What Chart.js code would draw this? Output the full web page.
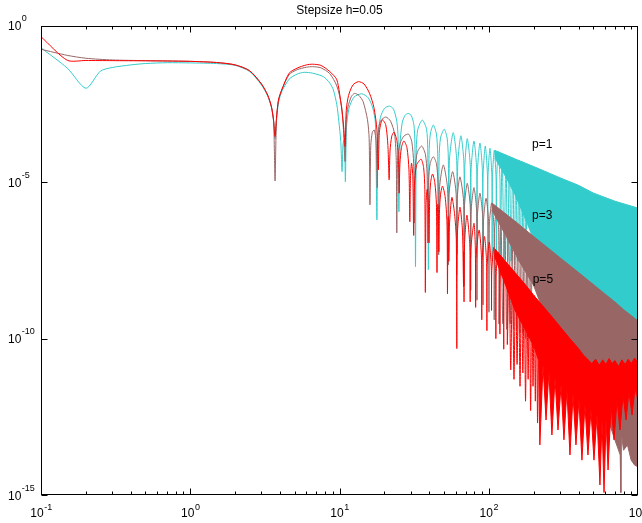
<!DOCTYPE html>
<html><head><meta charset="utf-8">
<script src="https://cdn.jsdelivr.net/npm/chart.js@4.4.0/dist/chart.umd.min.js"></script>
<style>html,body{margin:0;padding:0;background:#fff}#wrap{width:642px;height:523px;position:relative}</style>
</head><body><div id="wrap"><canvas id="c" width="642" height="523"></canvas></div>
<script>
// ---------------- data ----------------
const titleText = 'Stepsize h=0.05';
const xTickValues = [0.1, 1, 10, 100, 1000];
const xTickExponents = ['-1', '0', '1', '2', '3'];
const yTickValues = [1, 1e-5, 1e-10, 1e-15];
const yTickExponents = ['0', '-5', '-10', '-15'];
const seriesNames = ['p=1', 'p=3', 'p=5'];
const seriesLabelX = [195, 195, 197];
const seriesLabelY = [1.56e-4, 8.4e-7, 7.6e-9];

// p=1 (cyan) error curve: samples along the arches and dips
const p1Curve = [[0.1,0.2],[0.15,0.045],[0.2,0.0102],[0.25,0.036],[0.3,0.047],[0.4,0.057],[0.5,0.063],[0.7,0.067],[1,0.066],[1.5,0.063],[2,0.055],[2.5,0.035],[3,0.013],[3.3,0.0058],[3.5,0.0025],[3.62,0.0009],[3.7,0.00025],[3.78,0.0009],[3.9,0.0035],[4.1,0.008],[4.6,0.02],[5.2,0.029],[5.8,0.033],[6.6,0.031],[7.8,0.024],[8.6,0.015],[9.1,0.009],[9.6,0.003],[9.9,0.0009],[10.2,0.0002],[10.4,2.2e-5],[10.55,1.6e-4],[10.7,2.2e-4],[10.85,1e-4],[10.95,1.05e-5],
[11.15,6e-4],[11.6,2.4e-3],[12.5,5.3e-3],[14.1,6.8e-3],[15.6,5e-3],[16.7,2.4e-3],[17.4,8e-4],[17.8,6.3e-7],
[18.1,3e-4],[18.8,1.2e-3],[20,2.3e-3],[21.6,2.75e-3],[23,2.2e-3],[24.2,9e-4],[24.7,2.5e-4],[25,1.15e-6],
[25.4,1.5e-4],[26.3,8e-4],[27.5,1.4e-3],[28.9,1.6e-3],[30.3,1.35e-3],[31.5,7e-4],[32,1.8e-4],[32.3,2e-8],
[32.7,1.2e-4],[33.5,5e-4],[35.9,9.8e-4],[38.3,5e-4],[39,1.2e-4],[39.4,1.6e-8],
[39.8,8e-5],[40.6,3.5e-4],[42.5,6.8e-4],[44.6,3.5e-4],[45.5,8e-5],[46,6e-8],
[46.5,6e-5],[47.5,2.6e-4],[50.3,5e-4],[52.6,2.6e-4],[53.6,6e-5],[54,6e-8],
[54.5,5e-5],[57.8,3.9e-4],[61,5e-5],[61.5,5e-8],
[62,4e-5],[65.1,3.1e-4],[68.2,4e-5],[68.6,5e-8],
[69.1,3e-5],[71.8,2.5e-4],[75.3,3e-5],[75.7,4e-8],
[76.2,2.5e-5],[79.6,2.1e-4],[83,2.5e-5],[83.4,4e-8],
[83.9,2e-5],[87.3,1.8e-4],[90.8,2e-5],[91.2,4e-8],
[91.6,1.6e-5],[94.8,1.45e-4],[98,1.6e-5],[98.4,3e-8],
[98.8,1.4e-5],[101.9,1.23e-4],[105,1.4e-5],[105.4,3e-8],
[105.8,1.2e-5],[108.9,1.07e-4],[112,1.2e-5],[112.4,3e-8],
[112.8,1e-5],[115.8,9.5e-5],[119,1e-5],[119.3,3e-8],
[123,8.5e-5],[126.6,3e-8],[130.3,7.6e-5],[133.9,3e-8],[137.5,6.8e-5],[141.1,3e-8],[144.8,6.1e-5],[148.4,3e-8],
[152,5.5e-5],[155.6,3e-8],[159.3,5.1e-5],[162.9,2.5e-8],[166.5,4.6e-5],[170.1,2.5e-8],[173.8,4.2e-5],[177.4,2.5e-8],[181,3.9e-5]];
const p1BandTop = [[110,1.05e-4],[130,7.5e-5],[150,5.6e-5],[200,3.2e-5],[300,1.4e-5],[400,8e-6],[500,4.6e-6],[700,2.5e-6],[1000,1.5e-6]];
const p1BandBottom = [[110,6e-5],[130,1.5e-5],[150,4e-6],[170,1e-6],[200,1.5e-7],[230,3e-8],[300,4e-9],[400,1.5e-9],[500,8e-10],[700,2e-10],[1000,6e-11]];

// p=3 (brown)
const p3Curve = [[0.1,0.18],[0.15,0.115],[0.2,0.093],[0.3,0.082],[0.5,0.078],[0.7,0.076],[1,0.074],[1.5,0.068],[2,0.057],[2.5,0.037],[3,0.014],[3.3,0.0062],[3.5,0.0026],[3.62,0.0009],[3.7,1.1e-5],[3.78,0.001],[3.9,0.0042],[4.1,0.009],[4.6,0.028],[5.2,0.04],[6,0.048],[6.6,0.05],[7.5,0.046],[8.6,0.03],[9.6,0.012],[10.3,0.003],[10.6,6e-4],[10.9,4.6e-5],
[11.1,1e-3],[11.4,2.6e-3],[12,5.5e-3],[12.6,7e-3],[13.5,6e-3],[14.4,3.8e-3],[15.4,1e-3],[15.8,2.5e-4],[16,1.9e-6],
[16.2,1.5e-4],[16.6,4e-4],[17.1,4.7e-4],[17.6,2e-4],[17.9,6.6e-6],
[18.2,4e-4],[18.8,9e-4],[20.4,1.23e-3],[22,9e-4],[23.4,3.5e-4],[24,5e-5],[24.2,2.4e-7],
[24.5,5e-5],[25.5,1.8e-4],[27,3e-4],[29,3.5e-4],[30.5,2e-4],[31.4,4e-5],[31.8,5e-7],
[32.2,3e-5],[33.2,9e-5],[35.5,1.45e-4],[37.6,8e-5],[38.6,2e-5],[39,1.15e-7],
[39.5,1.2e-5],[40.5,4e-5],[42.5,6.6e-5],[44.6,4e-5],[45.7,1e-5],[46.2,4.8e-8],
[46.7,6e-6],[49.6,3.6e-5],[53,6e-6],[53.6,2.3e-8],
[54.1,4e-6],[57.3,2.2e-5],[60.5,4e-6],[61,1.1e-8],
[61.5,3e-6],[64.1,1.5e-5],[67.8,2.5e-6],[68.3,5e-9],
[68.8,1.8e-6],[71.8,9.3e-6],[75.2,1.6e-6],[75.7,3.5e-9],
[76.2,1.2e-6],[79.6,6.8e-6],[83,1.1e-6],[83.4,1.7e-9],
[83.9,8e-7],[87.3,4.5e-6],[91.2,7e-7],[91.6,1.2e-9],
[92.1,5e-7],[95.9,3.1e-6],[99.9,5e-7],[100.3,7e-10],
[100.8,4e-7],[104.6,2.2e-6],[108.4,3.5e-7],[108.8,4e-10],
[109.3,3e-7],[113,1.66e-6],[116.6,2.5e-7],[117,3e-10],
[120.5,1.3e-6],[124.2,3e-10],[128,1.03e-6],[131.7,2e-10],[135.5,8.2e-7],[139.2,3e-10],[143,6.7e-7],[146.7,2e-10],
[150.5,5.5e-7],[154.2,2e-10],[158,4.6e-7],[161.7,1.5e-10],[165.5,3.8e-7],[169.2,1.5e-10],[173,3.2e-7],[176.7,1e-10],
[180.5,2.7e-7],[184.2,1e-10],[188,2.3e-7],[191.7,8e-11],[195.5,2e-7]];
const p3BandTop = [[105,2.2e-6],[113,1.66e-6],[150,5.7e-7],[200,1.85e-7],[300,3.9e-8],[400,1.3e-8],[500,5.5e-9],[600,2.7e-9],[700,1.5e-9],[800,8.5e-10],[1000,3.7e-10]];
const p3BandBottom = [[105,1.3e-6],[130,2e-7],[160,3e-8],[200,5e-9],[250,3e-10],[300,2.1e-11],[400,4.8e-12],[500,1.1e-12],[600,5.2e-13],[650,1.7e-13],[700,5.8e-14],[760,1.9e-14],[766,1e-13],[769,1.2e-15],[772,1e-13],[800,2.7e-14],[850,4e-14],[900,1.3e-14],[950,9e-15],[1000,8e-15]];

// p=5 (red)
const p5Curve = [[0.1,0.455],[0.15,0.08],[0.2,0.079],[0.3,0.078],[0.5,0.077],[0.7,0.076],[1,0.074],[1.5,0.068],[2,0.057],[2.5,0.037],[3,0.014],[3.3,0.0062],[3.5,0.0026],[3.62,0.0009],[3.7,2.9e-4],[3.78,0.0011],[3.9,0.0043],[4.1,0.009],[4.6,0.031],[5.2,0.045],[6,0.057],[6.6,0.06],[7.5,0.055],[8.6,0.035],[9.6,0.019],[10.3,0.0026],[10.7,5e-4],[10.9,1.4e-4],
[11.1,2e-3],[11.5,6e-3],[12.3,0.013],[13.4,0.0166],[14.6,0.014],[15.9,7e-3],[17,2.5e-3],[17.8,5e-4],[18.2,2.5e-5],
[18.5,4e-4],[19.3,1e-3],[20.4,7e-4],[21.1,1.5e-4],[21.5,1.2e-5],
[21.8,1e-4],[22.4,3e-4],[23.2,4e-4],[24.3,2e-4],[24.9,3e-5],[25.1,4.5e-6],
[25.4,4e-5],[26,1.3e-4],[27,2.1e-4],[28.3,1.3e-4],[29.2,2.5e-5],[29.6,5.5e-7],
[29.9,1.5e-5],[30.4,4.1e-5],[31,1.5e-5],[31.4,2e-7],
[31.8,8e-6],[32.8,3.5e-5],[35.2,5.5e-5],[36.6,3e-5],[37.3,6e-6],[37.6,3e-9],
[38,2e-6],[38.7,6e-6],[39.4,2e-6],[39.8,1.15e-7],
[40.2,3e-6],[40.8,1e-5],[42,1.85e-5],[43.5,1e-5],[44.6,2e-6],[45,1.3e-8],
[45.3,1e-6],[45.6,2e-6],[46,1e-6],[46.3,6e-8],
[46.7,1e-6],[47.5,4e-6],[49,7.6e-6],[51,3.5e-6],[52.5,5e-7],[52.9,2.7e-9],
[53.2,4e-7],[53.5,8e-7],[53.8,3e-7],[54,3e-8],
[54.5,4e-7],[56.6,3.3e-6],[59,1e-6],[60.6,1.5e-7],[61.1,4.8e-11],
[61.6,2e-7],[64.1,1.6e-6],[66.6,3e-7],[67.8,4.6e-9],
[68,6e-8],[68.3,1.5e-9],
[68.8,1e-7],[71.4,8.9e-7],[74.6,1e-7],[75.1,1.5e-9],
[75.6,6e-8],[79.6,4.9e-7],[81.3,8e-8],[81.7,1e-9],
[82.2,4e-8],[86.2,3e-7],[89.4,4e-8],[89.8,4e-10],
[90.2,3e-8],[93.6,1.85e-7],[96.8,2.5e-8],[97.2,1.8e-10],
[97.6,2e-8],[100.8,1.23e-7],[104,1.8e-8],[104.4,8e-10],
[104.8,1.5e-8],[108,8.3e-8],[111.2,1.2e-8],[111.6,1e-10],
[112,1e-8],[115.2,5.8e-8],[118.4,8e-9],[118.8,1.4e-10],
[119.2,7e-9],[122.4,4.1e-8],[125.6,6e-9],[126,4.6e-11],
[126.4,5e-9],[129.6,2.9e-8],[132.8,4e-9],[133.2,6.5e-11],
[136.8,2.15e-8],[140.4,1e-11],[144,1.6e-8],[147.6,5e-12],[151.2,1.2e-8],[154.8,1.5e-11],[158.4,9.3e-9],[162,3e-12],
[165.6,7.2e-9],[169.2,8e-12],[172.8,5.7e-9],[176.4,1e-12],[180,4.5e-9],[183.6,5e-12],[187.2,3.6e-9],[190.8,5e-13],
[194.4,2.9e-9],[198,3e-12],[201.6,2.4e-9],[205.2,1e-12],[208.8,1.9e-9],[212.4,2e-13],[216,1.6e-9]];
const p5BandTop = [[110,7.4e-8],[130,2.9e-8],[150,1.3e-8],[175,5.5e-9],[200,2.45e-9],[250,7e-10],[300,2.45e-10],[350,1e-10],[400,4.8e-11],[430,3e-11],[460,2.2e-11],[490,1.6e-11],[520,2.2e-11],[550,1.4e-11],[580,2.1e-11],[610,1.5e-11],[640,2.3e-11],[670,1.6e-11],[700,2e-11],[740,1.3e-11],[780,2.1e-11],[820,1.5e-11],[860,2.2e-11],[900,1.6e-11],[950,2.4e-11],[1000,1.7e-11]];
const p5BandBottom = [[110,4e-8],[130,5e-9],[150,8e-10],[175,2e-10],[200,6e-11],[216,2e-11],[220,4e-14],[231,1.45e-11],[242,2.5e-13],[253,8.6e-12],[265,8.3e-14],[278,5.5e-12],[291,1.2e-13],[305,3.3e-12],[319,5.8e-14],[334,2.3e-12],[350,1.9e-14],[367,1.6e-12],[384,4e-14],[402,1.1e-12],[421,1.3e-14],[441,7.6e-13],[462,1.9e-14],[484,5.2e-13],[507,1.3e-14],[531,3.6e-13],[556,2.1e-15],[574,2.5e-13],[592,1.2e-15],[611,2.5e-13],[630,6.3e-15],[660,7.6e-13],[691,5.8e-14],[724,1.1e-12],[757,1.2e-13],[794,1.6e-12],[831,2.5e-13],[870,2e-12],[912,3.6e-13],[955,2.6e-12],[1000,1.1e-12]];

// ---------------- styles ----------------
const COLORS = ['#33cccc', '#996666', '#ff0000'];
const FONT = '"Liberation Sans", Arial, Helvetica, sans-serif';

function pts(a) { return a.map(p => ({x: p[0], y: p[1]})); }
function curve(data, color, order) {
  return {data: pts(data), borderColor: color, backgroundColor: color, borderWidth: 1, pointRadius: 0,
          tension: 0.25, fill: false, order: order};
}
function bandTop(data, color, order) {
  return {data: pts(data), borderColor: color, backgroundColor: color, borderWidth: 1, pointRadius: 0,
          tension: 0, fill: '+1', order: order};
}
function bandBottom(data, color, order) {
  return {data: pts(data), borderColor: color, backgroundColor: color, borderWidth: 1, pointRadius: 0,
          tension: 0, fill: false, order: order};
}

const datasets = [
  curve(p5Curve, COLORS[2], 1),
  bandTop(p5BandTop, COLORS[2], 2),
  bandBottom(p5BandBottom, COLORS[2], 2),
  curve(p3Curve, COLORS[1], 3),
  bandTop(p3BandTop, COLORS[1], 4),
  bandBottom(p3BandBottom, COLORS[1], 4),
  curve(p1Curve, COLORS[0], 5),
  bandTop(p1BandTop, COLORS[0], 6),
  bandBottom(p1BandBottom, COLORS[0], 6)
];

const decorPlugin = {
  id: 'decor',
  afterDraw(chart) {
    const {ctx, chartArea: a, scales: {x, y}} = chart;
    ctx.save();
    const L = Math.round(a.left) + 0.5, R = Math.round(a.right) - 0.5;
    const T = Math.round(a.top) + 0.5, B = Math.round(a.bottom) - 0.5;
    ctx.strokeStyle = '#000'; ctx.lineWidth = 1;
    ctx.strokeRect(L, T, R - L, B - T);
    ctx.beginPath();
    for (let d = -1; d <= 2; d++) {
      for (let k = 1; k <= 9; k++) {
        const v = k * Math.pow(10, d);
        const px = Math.round(x.getPixelForValue(v)) + 0.5;
        const len = k === 1 ? 6 : 3;
        ctx.moveTo(px, B); ctx.lineTo(px, B - len);
        ctx.moveTo(px, T); ctx.lineTo(px, T + len);
      }
    }
    const pxEnd = Math.round(x.getPixelForValue(1000)) - 0.5;
    ctx.moveTo(pxEnd, B); ctx.lineTo(pxEnd, B - 6);
    ctx.moveTo(pxEnd, T); ctx.lineTo(pxEnd, T + 6);
    yTickValues.forEach(v => {
      const py = Math.round(y.getPixelForValue(v)) + 0.5;
      ctx.moveTo(L, py); ctx.lineTo(L + 6, py);
      ctx.moveTo(R, py); ctx.lineTo(R - 6, py);
    });
    ctx.stroke();

    ctx.fillStyle = '#000';
    const bigFont = '12px ' + FONT, smallFont = '9px ' + FONT;
    ctx.textBaseline = 'alphabetic'; ctx.textAlign = 'left';
    xTickValues.forEach((v, i) => {
      const px = x.getPixelForValue(v);
      ctx.font = bigFont; const w1 = ctx.measureText('10').width;
      ctx.font = smallFont; const w2 = ctx.measureText(xTickExponents[i]).width;
      const left = px - (w1 + w2) / 2;
      ctx.font = bigFont; ctx.fillText('10', left, 517);
      ctx.font = smallFont; ctx.fillText(xTickExponents[i], left + w1 + 0.5, 510);
    });
    yTickValues.forEach((v, i) => {
      const py = y.getPixelForValue(v);
      const mid = i === yTickValues.length - 1 ? py + 2 : py + 1;
      ctx.font = bigFont; ctx.textBaseline = 'middle';
      const w1 = ctx.measureText('10').width;
      ctx.fillText('10', 8, mid);
      ctx.font = smallFont;
      ctx.fillText(yTickExponents[i], 8 + w1 + 0.5, mid - 8);
    });
    ctx.font = '12px ' + FONT; ctx.textAlign = 'center'; ctx.textBaseline = 'middle';
    ctx.fillText(titleText, (a.left + a.right) / 2, 11);
    ctx.textAlign = 'left';
    seriesNames.forEach((s, i) => {
      ctx.fillText(s, x.getPixelForValue(seriesLabelX[i]), y.getPixelForValue(seriesLabelY[i]));
    });
    ctx.restore();
  }
};

new Chart(document.getElementById('c'), {
  type: 'line',
  data: {datasets},
  options: {
    responsive: false,
    animation: false,
    devicePixelRatio: 1,
    layout: {padding: {left: 41, right: 4, top: 26, bottom: 28}},
    plugins: {legend: {display: false}, tooltip: {enabled: false}, title: {display: false}},
    scales: {
      x: {type: 'logarithmic', min: 0.1, max: 1000, display: false},
      y: {type: 'logarithmic', min: 1e-15, max: 1, display: false}
    },
    elements: {line: {capBezierPoints: true}}
  },
  plugins: [decorPlugin]
});
</script></body></html>
